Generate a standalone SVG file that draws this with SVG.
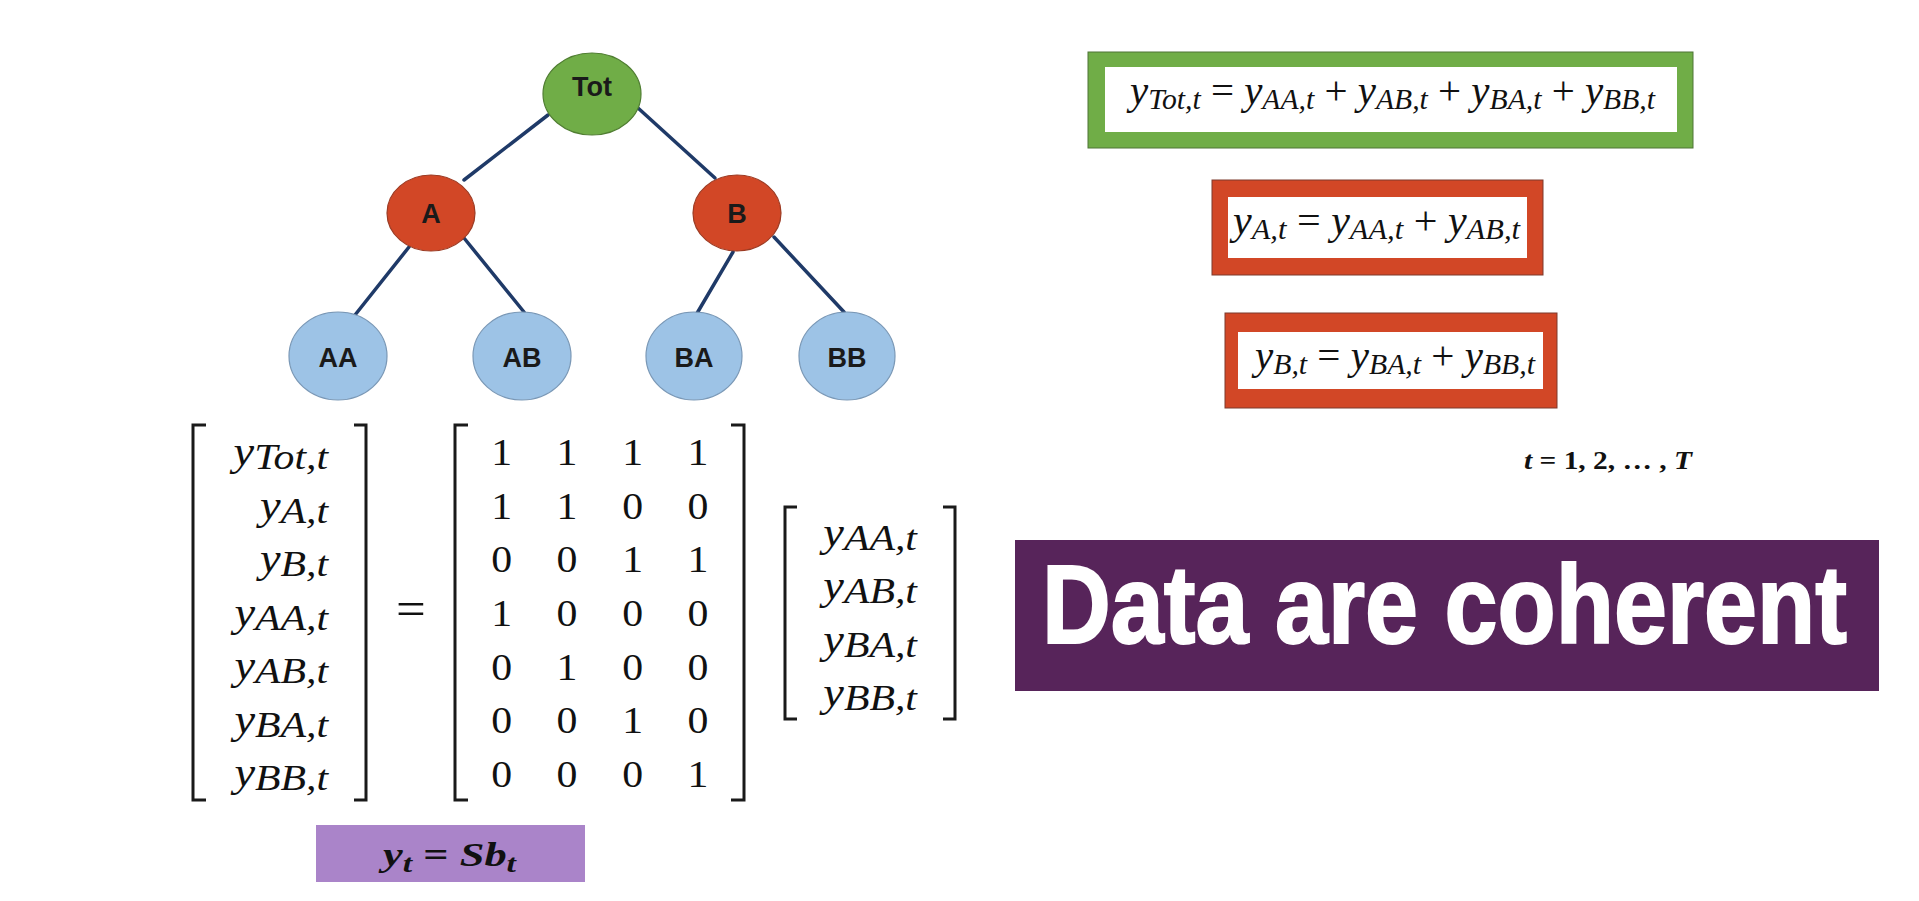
<svg xmlns="http://www.w3.org/2000/svg" width="1919" height="901" viewBox="0 0 1919 901">
  <style>
    .edge { stroke: #1f3a68; stroke-width: 3.5; stroke-linecap: round; fill: none; }
    .lbl { font-family: "Liberation Sans", Arial, sans-serif; font-weight: bold; font-size: 27px; fill: #1a1a1a; text-anchor: middle; }
    .n-top { fill: #70ad47; stroke: #507e32; stroke-width: 1.2; }
    .n-mid { fill: #d24726; stroke: #9c3a22; stroke-width: 1.2; }
    .n-leaf { fill: #9dc3e6; stroke: #7a98b6; stroke-width: 1.2; }
    .math { font-family: "Liberation Serif", "Times New Roman", serif; fill: #111; }
    .it { font-style: italic; }
    .up { font-style: normal; }
    .eqbox { font-family: "Liberation Serif", "Times New Roman", serif; font-size: 40px; fill: #111; }
    .eqbox .s { font-size: 29px; font-style: italic; }
    .vec { font-size: 40px; font-style: italic; text-anchor: end; }
    .vec .s { font-size: 36px; }
    .digit { font-size: 38px; text-anchor: middle; }
    .bracket { stroke: #1a1a1a; stroke-width: 3; fill: none; stroke-linecap: butt; stroke-linejoin: miter; }
    .bold { font-family: "Liberation Serif", "Times New Roman", serif; font-weight: bold; fill: #111; }
  </style>

  <rect x="0" y="0" width="1919" height="901" fill="#ffffff"/>

  <!-- hierarchy tree: connectors -->
  <g id="connectors">
    <line class="edge" x1="548" y1="115" x2="464" y2="180"/>
    <line class="edge" x1="638" y1="108" x2="715" y2="178"/>
    <line class="edge" x1="409" y1="247" x2="355" y2="315"/>
    <line class="edge" x1="464" y1="238" x2="524" y2="312"/>
    <line class="edge" x1="733" y1="252" x2="696" y2="315"/>
    <line class="edge" x1="774" y1="237" x2="844" y2="312"/>
  </g>

  <!-- hierarchy tree: nodes -->
  <g id="node-tot">
    <ellipse class="n-top" cx="592" cy="94" rx="49" ry="41"/>
    <text class="lbl" x="592" y="96">Tot</text>
  </g>
  <g id="node-a">
    <ellipse class="n-mid" cx="431" cy="213" rx="44" ry="38"/>
    <text class="lbl" x="431" y="223">A</text>
  </g>
  <g id="node-b">
    <ellipse class="n-mid" cx="737" cy="213" rx="44" ry="38"/>
    <text class="lbl" x="737" y="223">B</text>
  </g>
  <g id="node-aa">
    <ellipse class="n-leaf" cx="338" cy="356" rx="49" ry="44"/>
    <text class="lbl" x="338" y="367">AA</text>
  </g>
  <g id="node-ab">
    <ellipse class="n-leaf" cx="522" cy="356" rx="49" ry="44"/>
    <text class="lbl" x="522" y="367">AB</text>
  </g>
  <g id="node-ba">
    <ellipse class="n-leaf" cx="694" cy="356" rx="48" ry="44"/>
    <text class="lbl" x="694" y="367">BA</text>
  </g>
  <g id="node-bb">
    <ellipse class="n-leaf" cx="847" cy="356" rx="48" ry="44"/>
    <text class="lbl" x="847" y="367">BB</text>
  </g>

  <!-- matrix form y = S b -->
  <g id="matrix-eq">
    <path class="bracket" d="M206,425 H193 V800 H206"/>
    <path class="bracket" d="M354,425 H366 V800 H354"/>
    <path class="bracket" d="M468,425 H455 V800 H468"/>
    <path class="bracket" d="M731,425 H744 V800 H731"/>
    <path class="bracket" d="M797,507 H785 V719 H797"/>
    <path class="bracket" d="M943,507 H955 V719 H943"/>

    <g transform="scale(1.16,1)">
      <text class="math vec" x="282.8" y="465">y<tspan class="s" dy="4">Tot,t</tspan></text>
      <text class="math vec" x="282.8" y="519">y<tspan class="s" dy="4">A,t</tspan></text>
      <text class="math vec" x="282.8" y="572">y<tspan class="s" dy="4">B,t</tspan></text>
      <text class="math vec" x="282.8" y="626">y<tspan class="s" dy="4">AA,t</tspan></text>
      <text class="math vec" x="282.8" y="679">y<tspan class="s" dy="4">AB,t</tspan></text>
      <text class="math vec" x="282.8" y="733">y<tspan class="s" dy="4">BA,t</tspan></text>
      <text class="math vec" x="282.8" y="786">y<tspan class="s" dy="4">BB,t</tspan></text>

      <text class="math vec" x="790.5" y="546">y<tspan class="s" dy="4">AA,t</tspan></text>
      <text class="math vec" x="790.5" y="599">y<tspan class="s" dy="4">AB,t</tspan></text>
      <text class="math vec" x="790.5" y="653">y<tspan class="s" dy="4">BA,t</tspan></text>
      <text class="math vec" x="790.5" y="706">y<tspan class="s" dy="4">BB,t</tspan></text>
    </g>

    <g transform="scale(1.1,1)">
      <text class="math" x="373.6" y="625" font-size="48" text-anchor="middle">=</text>
      <text class="math digit" x="456 515.5 575.3 634.5" y="465">1111</text>
      <text class="math digit" x="456 515.5 575.3 634.5" y="519">1100</text>
      <text class="math digit" x="456 515.5 575.3 634.5" y="572">0011</text>
      <text class="math digit" x="456 515.5 575.3 634.5" y="626">1000</text>
      <text class="math digit" x="456 515.5 575.3 634.5" y="680">0100</text>
      <text class="math digit" x="456 515.5 575.3 634.5" y="733">0010</text>
      <text class="math digit" x="456 515.5 575.3 634.5" y="787">0001</text>
    </g>
  </g>

  <!-- compact form -->
  <g id="compact-eq">
    <rect x="316" y="825" width="269" height="57" fill="#aa84c9"/>
    <text class="bold it" x="383" y="866" font-size="33" textLength="133" lengthAdjust="spacingAndGlyphs">y<tspan font-size="25" dy="6">t</tspan><tspan class="up" dy="-6"> = </tspan>Sb<tspan font-size="25" dy="6">t</tspan></text>
  </g>

  <!-- aggregation constraints -->
  <g id="eq-total">
    <rect x="1088" y="52" width="605" height="96" fill="#70ad47" stroke="#4e7436" stroke-width="1"/>
    <rect x="1105" y="67" width="572" height="65" fill="#ffffff"/>
    <text class="eqbox" x="1130" y="104" textLength="525" lengthAdjust="spacingAndGlyphs"><tspan class="it">y</tspan><tspan class="s" dy="5">Tot,t</tspan><tspan dy="-5"> = </tspan><tspan class="it">y</tspan><tspan class="s" dy="5">AA,t</tspan><tspan dy="-5"> + </tspan><tspan class="it">y</tspan><tspan class="s" dy="5">AB,t</tspan><tspan dy="-5"> + </tspan><tspan class="it">y</tspan><tspan class="s" dy="5">BA,t</tspan><tspan dy="-5"> + </tspan><tspan class="it">y</tspan><tspan class="s" dy="5">BB,t</tspan></text>
  </g>
  <g id="eq-a">
    <rect x="1212" y="180" width="331" height="95" fill="#d24726" stroke="#7d3a2c" stroke-width="1"/>
    <rect x="1228" y="197" width="299" height="61" fill="#ffffff"/>
    <text class="eqbox" x="1233" y="234" textLength="287" lengthAdjust="spacingAndGlyphs"><tspan class="it">y</tspan><tspan class="s" dy="5">A,t</tspan><tspan dy="-5"> = </tspan><tspan class="it">y</tspan><tspan class="s" dy="5">AA,t</tspan><tspan dy="-5"> + </tspan><tspan class="it">y</tspan><tspan class="s" dy="5">AB,t</tspan></text>
  </g>
  <g id="eq-b">
    <rect x="1225" y="313" width="332" height="95" fill="#d24726" stroke="#7d3a2c" stroke-width="1"/>
    <rect x="1238" y="332" width="305" height="57" fill="#ffffff"/>
    <text class="eqbox" x="1255" y="369" textLength="280" lengthAdjust="spacingAndGlyphs"><tspan class="it">y</tspan><tspan class="s" dy="5">B,t</tspan><tspan dy="-5"> = </tspan><tspan class="it">y</tspan><tspan class="s" dy="5">BA,t</tspan><tspan dy="-5"> + </tspan><tspan class="it">y</tspan><tspan class="s" dy="5">BB,t</tspan></text>
  </g>

  <!-- time index -->
  <text class="bold" x="1524" y="469" font-size="25" textLength="168" lengthAdjust="spacingAndGlyphs"><tspan class="it">t</tspan> = 1, 2, … , <tspan class="it">T</tspan></text>

  <!-- banner: condensed heavy white caption -->
  <g id="banner">
    <rect x="1015" y="540" width="864" height="151" fill="#57245a"/>
    <g transform="scale(0.851,1)">
      <text x="1224.4" y="643" font-family="Liberation Sans, Arial, sans-serif" font-weight="bold" font-size="112" fill="#ffffff" stroke="#ffffff" stroke-width="2" textLength="946" lengthAdjust="spacingAndGlyphs">Data are coherent</text>
    </g>
  </g>
</svg>
